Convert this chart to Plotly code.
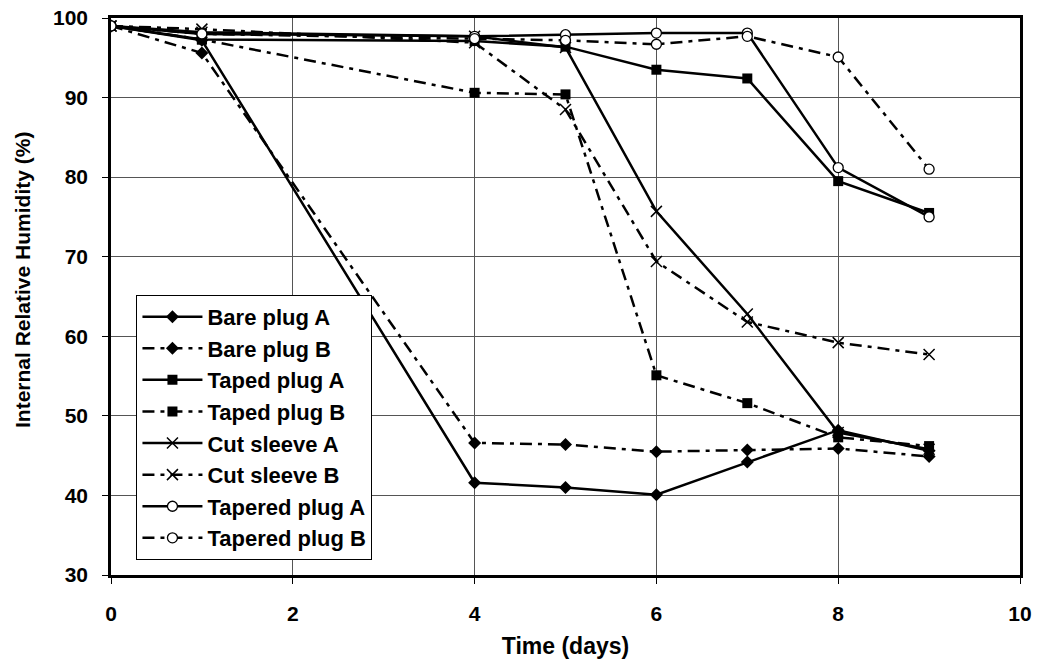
import plotly.graph_objects as go

days = [0, 1, 4, 5, 6, 7, 8, 9]

bare_plug_a = [99.0, 97.2, 41.6, 41.0, 40.1, 44.2, 48.2, 45.6]
bare_plug_b = [99.0, 95.6, 46.6, 46.4, 45.5, 45.7, 45.9, 44.9]
taped_plug_a = [99.0, 97.3, 97.1, 96.4, 93.5, 92.4, 79.5, 75.5]
taped_plug_b = [99.0, 97.3, 90.6, 90.4, 55.1, 51.6, 47.3, 46.2]
cut_sleeve_a = [99.0, 98.2, 97.7, 96.3, 75.7, 62.8, 47.9, 45.8]
cut_sleeve_b = [99.0, 98.6, 96.9, 88.5, 69.4, 61.8, 59.2, 57.7]
tapered_plug_a = [99.0, 98.0, 97.7, 97.9, 98.1, 98.1, 81.2, 75.0]
tapered_plug_b = [99.0, 98.0, 97.4, 97.2, 96.7, 97.7, 95.1, 81.0]

x_ticks = [0, 2, 4, 6, 8, 10]
y_ticks = [30, 40, 50, 60, 70, 80, 90, 100]

FONT = "Arial, Liberation Sans, sans-serif"
DASH_B = "12px,6px,4px,6px"

series = [
    ("Bare plug A", bare_plug_a, "solid", dict(symbol="diamond", size=10, color="black")),
    ("Bare plug B", bare_plug_b, DASH_B, dict(symbol="diamond", size=10, color="black")),
    ("Taped plug A", taped_plug_a, "solid", dict(symbol="square", size=10, color="black")),
    ("Taped plug B", taped_plug_b, DASH_B, dict(symbol="square", size=10, color="black")),
    ("Cut sleeve A", cut_sleeve_a, "solid", dict(symbol="x-thin", size=11, color="black",
                                                line=dict(color="black", width=1.5))),
    ("Cut sleeve B", cut_sleeve_b, DASH_B, dict(symbol="x-thin", size=11, color="black",
                                               line=dict(color="black", width=1.5))),
    ("Tapered plug A", tapered_plug_a, "solid", dict(symbol="circle", size=10, color="white",
                                                    line=dict(color="black", width=1.3))),
    ("Tapered plug B", tapered_plug_b, DASH_B, dict(symbol="circle", size=10, color="white",
                                                   line=dict(color="black", width=1.3))),
]

fig = go.Figure()
for name, vals, dash, marker in series:
    fig.add_trace(go.Scatter(
        x=days, y=vals, name=name, mode="lines+markers",
        line=dict(color="black", width=2.5, dash=dash),
        marker=marker,
    ))

fig.update_layout(
    width=1038, height=669,
    margin=dict(l=111, r=18, t=18, b=94, autoexpand=False),
    paper_bgcolor="white", plot_bgcolor="white",
    font=dict(family=FONT, color="black"),
    showlegend=True,
    legend=dict(
        x=0.028, y=0.503, xanchor="left", yanchor="top",
        bgcolor="white", bordercolor="black", borderwidth=1,
        font=dict(family=FONT, size=22, color="black", weight="bold"),
        tracegroupgap=0, itemwidth=60,
    ),
    annotations=[dict(
        text="Internal Relative Humidity (%)", textangle=-90,
        xref="paper", yref="paper", x=0, y=0.5296, xshift=-89,
        xanchor="center", yanchor="middle", showarrow=False,
        font=dict(family=FONT, size=21, color="black", weight="bold"),
    )],
)

fig.update_xaxes(
    range=[0, 10], tickvals=x_ticks, ticktext=[str(t) for t in x_ticks],
    showgrid=True, gridcolor="#555555", gridwidth=1,
    showline=True, linecolor="black", linewidth=2.5, mirror=True,
    ticks="outside", ticklen=6, tickcolor="black", ticklabelstandoff=12,
    ticklabeloverflow="allow",
    tickfont=dict(family=FONT, size=21, color="black", weight="bold"),
    title=dict(text="Time (days)", font=dict(family=FONT, size=23, color="black", weight="bold"),
               standoff=14),
    zeroline=False, automargin=False,
)
fig.update_yaxes(
    range=[30, 100], tickvals=y_ticks, ticktext=[str(t) for t in y_ticks],
    showgrid=True, gridcolor="#555555", gridwidth=1,
    showline=True, linecolor="black", linewidth=2.5, mirror=True,
    ticks="outside", ticklen=6, tickcolor="black", ticklabelstandoff=10,
    ticklabeloverflow="allow",
    tickfont=dict(family=FONT, size=21, color="black", weight="bold"),
    zeroline=False, automargin=False,
)

fig.write_html(
    "out.html",
    config={"displayModeBar": False},
    post_script="document.body.style.margin='0';document.body.style.overflow='hidden';",
)
